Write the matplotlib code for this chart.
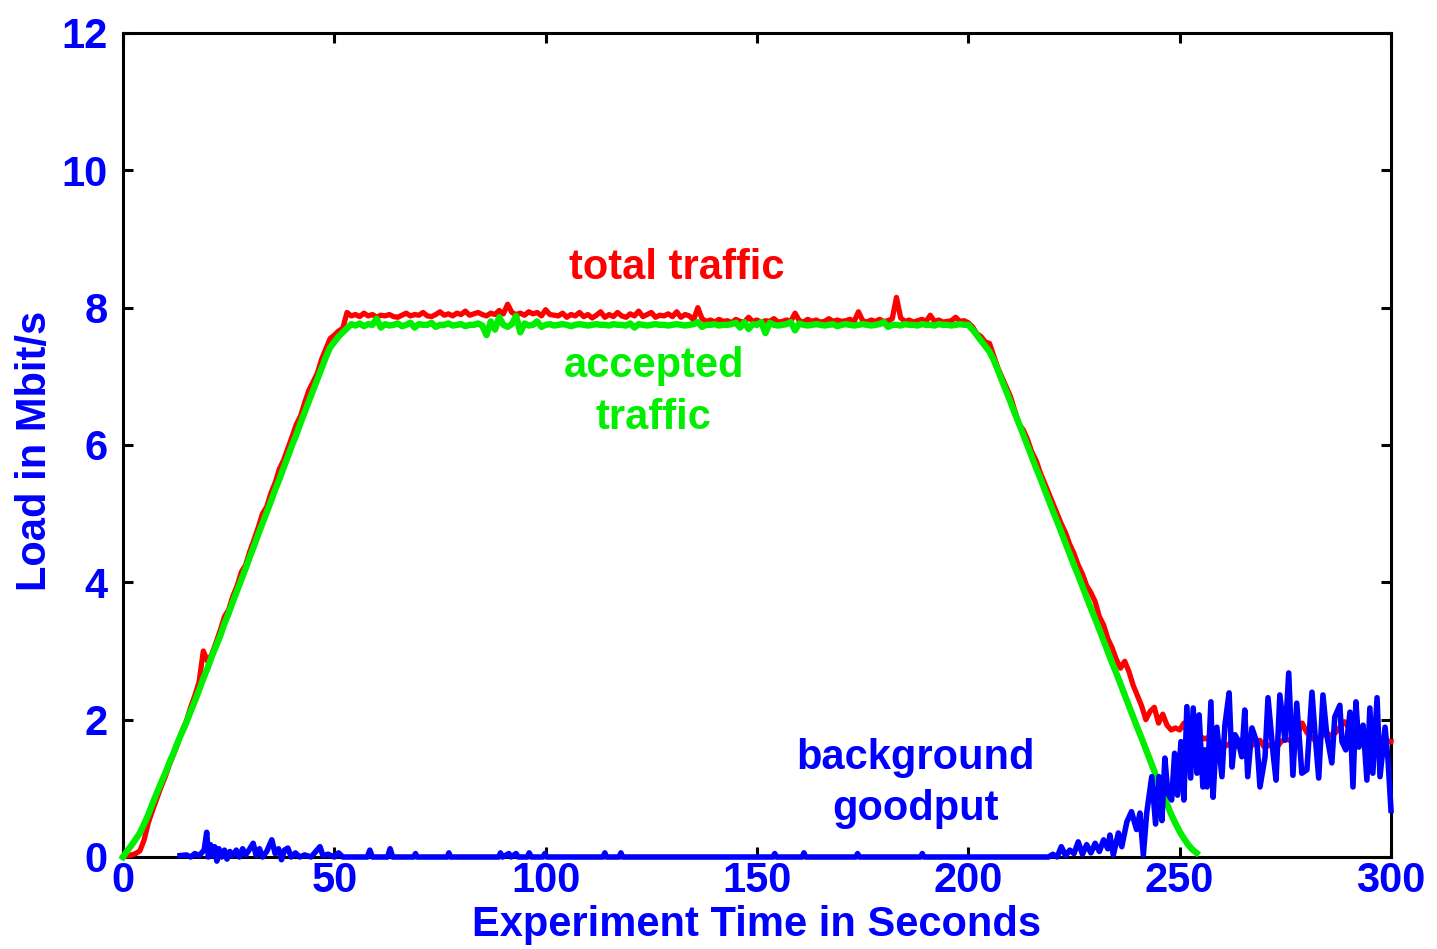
import numpy as np
import matplotlib
matplotlib.use("Agg")
import matplotlib.pyplot as plt

# -------------------------
# Data (1 s samples)
# -------------------------
red_load = [
    0.00, 0.02, 0.03, 0.05, 0.09, 0.25, 0.50, 0.68, 0.85, 1.02,
    1.17, 1.35, 1.50, 1.66, 1.84, 1.98, 2.18, 2.35, 2.55, 3.00,
    2.85, 2.95, 3.12, 3.30, 3.50, 3.60, 3.80, 3.95, 4.15, 4.25,
    4.45, 4.62, 4.80, 5.00, 5.10, 5.30, 5.45, 5.65, 5.78, 5.95,
    6.12, 6.30, 6.42, 6.62, 6.80, 6.92, 7.05, 7.25, 7.40, 7.55,
    7.60, 7.66, 7.70, 7.93, 7.88, 7.90, 7.87, 7.92, 7.88, 7.90,
    7.86, 7.89, 7.88, 7.90, 7.87, 7.86, 7.89, 7.92, 7.88, 7.90,
    7.89, 7.93, 7.88, 7.87, 7.90, 7.94, 7.89, 7.91, 7.88, 7.92,
    7.90, 7.95, 7.89, 7.91, 7.93, 7.90, 7.88, 7.92, 7.90, 7.96,
    7.91, 8.05, 7.93, 7.90, 7.92, 7.89, 7.94, 7.91, 7.93, 7.88,
    7.97, 7.90, 7.89, 7.88, 7.92, 7.86, 7.90, 7.88, 7.93, 7.87,
    7.90, 7.85, 7.89, 7.94, 7.86, 7.90, 7.87, 7.93, 7.88, 7.86,
    7.91, 7.88, 7.95, 7.87, 7.90, 7.93, 7.86, 7.89, 7.88, 7.91,
    7.87, 7.94, 7.86, 7.90, 7.88, 7.82, 8.00, 7.84, 7.80, 7.82,
    7.79, 7.83, 7.80, 7.81, 7.78, 7.83, 7.80, 7.79, 7.86, 7.80,
    7.82, 7.79, 7.81, 7.80, 7.84, 7.79, 7.80, 7.82, 7.80, 7.92,
    7.81, 7.79, 7.83, 7.80, 7.82, 7.79, 7.80, 7.84, 7.80, 7.82,
    7.80, 7.81, 7.83, 7.80, 7.94, 7.81, 7.79, 7.82, 7.80, 7.83,
    7.80, 7.81, 7.84, 8.15, 7.85, 7.80, 7.82, 7.79, 7.81, 7.83,
    7.80, 7.89, 7.80, 7.82, 7.79, 7.80, 7.81, 7.86, 7.80, 7.81,
    7.78, 7.72, 7.62, 7.58, 7.50, 7.48, 7.30, 7.12, 6.98, 6.84,
    6.70, 6.50, 6.30, 6.22, 6.08, 5.90, 5.78, 5.60, 5.45, 5.30,
    5.15, 5.00, 4.85, 4.72, 4.55, 4.42, 4.25, 4.12, 3.95, 3.85,
    3.72, 3.50, 3.38, 3.18, 3.05, 2.88, 2.75, 2.85, 2.70, 2.50,
    2.35, 2.20, 2.00, 2.12, 2.18, 1.95, 2.08, 1.92, 1.85, 1.88,
    1.85, 1.95, 1.80, 1.78, 1.82, 1.75, 1.72, 1.75, 1.70, 1.68,
    1.65, 1.62, 1.66, 1.60, 1.63, 1.65, 1.60, 1.62, 1.66, 1.70,
    1.60, 1.62, 1.65, 1.60, 1.68, 1.72, 1.70, 1.75, 1.80, 1.95,
    1.82, 1.75, 1.70, 1.72, 1.78, 1.80, 1.76, 1.82, 1.90, 1.97,
    1.88, 1.84, 1.80, 1.78, 1.74, 1.75, 1.72, 1.70, 1.72, 1.69,
    1.68,
]

green_load = [
    0.00, 0.09, 0.17, 0.26, 0.35, 0.48, 0.62, 0.78, 0.93, 1.08,
    1.22, 1.38, 1.52, 1.68, 1.82, 1.96, 2.12, 2.27, 2.43, 2.60,
    2.75, 2.92, 3.07, 3.22, 3.40, 3.55, 3.72, 3.88, 4.04, 4.20,
    4.37, 4.53, 4.70, 4.86, 5.02, 5.18, 5.35, 5.50, 5.67, 5.83,
    6.00, 6.15, 6.32, 6.48, 6.64, 6.80, 6.96, 7.12, 7.28, 7.42,
    7.50, 7.58, 7.64, 7.70, 7.76, 7.74, 7.77, 7.73, 7.76, 7.75,
    7.84, 7.71, 7.76, 7.74, 7.75, 7.77, 7.73, 7.75, 7.78, 7.71,
    7.76, 7.75, 7.75, 7.78, 7.72, 7.75, 7.75, 7.77, 7.74, 7.75,
    7.76, 7.73, 7.75, 7.75, 7.77, 7.74, 7.60, 7.80, 7.68, 7.86,
    7.75, 7.72, 7.76, 7.88, 7.64, 7.77, 7.74, 7.75, 7.80, 7.72,
    7.75, 7.76, 7.74, 7.75, 7.76, 7.75, 7.73, 7.75, 7.76, 7.75,
    7.74, 7.75, 7.76, 7.75, 7.75, 7.74, 7.76, 7.75, 7.75, 7.74,
    7.77, 7.71, 7.76, 7.75, 7.74, 7.75, 7.76, 7.75, 7.75, 7.74,
    7.75, 7.76, 7.75, 7.74, 7.75, 7.76, 7.79, 7.72, 7.75, 7.75,
    7.76, 7.74, 7.75, 7.75, 7.76, 7.78, 7.71, 7.79, 7.69, 7.76,
    7.75, 7.79, 7.63, 7.78, 7.75, 7.74, 7.75, 7.76, 7.79, 7.67,
    7.77, 7.75, 7.74, 7.75, 7.76, 7.75, 7.74, 7.75, 7.76, 7.73,
    7.75, 7.76, 7.75, 7.74, 7.75, 7.76, 7.75, 7.74, 7.75, 7.76,
    7.79, 7.72, 7.75, 7.75, 7.74, 7.76, 7.75, 7.75, 7.74, 7.76,
    7.75, 7.75, 7.74, 7.76, 7.75, 7.75, 7.74, 7.75, 7.76, 7.75,
    7.75, 7.68, 7.60, 7.52, 7.44, 7.36, 7.24, 7.09, 6.93, 6.78,
    6.62, 6.46, 6.31, 6.15, 5.99, 5.83, 5.67, 5.52, 5.36, 5.20,
    5.04, 4.89, 4.73, 4.57, 4.41, 4.25, 4.10, 3.94, 3.78, 3.62,
    3.47, 3.31, 3.15, 2.99, 2.83, 2.68, 2.52, 2.36, 2.20, 2.04,
    1.88, 1.73, 1.57, 1.41, 1.25, 1.08, 0.92, 0.77, 0.62, 0.49,
    0.37, 0.27, 0.18, 0.11, 0.06,
]

blue_time = [
    13.5, 15, 16, 17, 18, 19.2, 19.8, 20.2, 20.7, 21.2,
    21.7, 22.2, 22.7, 23.3, 24, 24.6, 25.3, 26, 26.8, 27.5,
    28.3, 29, 29.8, 30.8, 31.5, 32.3, 33, 34, 35.2, 36,
    36.8, 37.5, 38.2, 39, 39.8, 40.8, 41.8, 43, 44.5, 46.6,
    47.3, 48.5, 50, 51, 52, 57.8, 58.4, 59, 62.6, 63.2,
    63.8, 68.8, 69.2, 69.6, 76.7, 77.1, 77.5, 88.9, 89.3, 89.8,
    91.3, 91.8, 93, 93.5, 95.7, 96.1, 96.6, 99.4, 99.8, 100.3,
    113.6, 114, 114.4, 117.4, 117.8, 118.2, 153.8, 154.2, 154.6, 160.7,
    161.1, 161.5, 173.4, 173.8, 174.2, 188.7, 189.1, 189.5, 219, 220,
    221, 222, 223, 224, 225, 226, 227, 228, 229, 230,
    231, 232, 233, 233.5, 234.3, 235.5, 236.3, 237.5, 238.6, 239.8,
    240.6, 241.4, 242.2, 243.4, 244.3, 245.1, 245.8, 246.5, 247.2, 248.1,
    248.8, 249.5, 250.3, 251.0, 251.7, 252.6, 253.2, 254.1, 254.6, 255.5,
    256.0, 256.5, 257.4, 257.9, 258.8, 260.0, 260.7, 261.7, 262.4, 263.1,
    263.8, 264.7, 265.4, 266.1, 267.1, 268.3, 269.0, 270.2, 270.9, 272.1,
    272.8, 273.7, 274.9, 275.8, 276.8, 277.7, 278.9, 280.1, 281.3, 282.0,
    282.9, 283.9, 284.8, 286.0, 286.7, 287.9, 288.4, 289.3, 290.3, 291.0,
    291.7, 292.4, 293.4, 294.3, 295.0, 295.7, 296.7, 297.4, 298.6, 299.3,
    300.0,
]

blue_load = [
    0.02, 0.03, 0.00, 0.05, 0.02, 0.10, 0.36, 0.00, 0.18, 0.02,
    0.15, -0.06, 0.12, 0.00, 0.10, -0.03, 0.08, 0.02, 0.10, 0.00,
    0.12, 0.03, 0.10, 0.20, 0.02, 0.12, 0.00, 0.08, 0.25, 0.05,
    0.12, -0.04, 0.10, 0.13, 0.00, 0.06, 0.00, 0.03, 0.00, 0.15,
    0.02, 0.04, 0.00, 0.06, 0.00, 0.00, 0.10, 0.00, 0.00, 0.12,
    0.00, 0.00, 0.05, 0.00, 0.00, 0.06, 0.00, 0.00, 0.06, 0.00,
    0.05, 0.00, 0.05, 0.00, 0.00, 0.06, 0.00, 0.00, 0.05, 0.00,
    0.00, 0.06, 0.00, 0.00, 0.06, 0.00, 0.00, 0.05, 0.00, 0.00,
    0.06, 0.00, 0.00, 0.05, 0.00, 0.00, 0.05, 0.00, 0.00, 0.04,
    0.00, 0.15, 0.02, 0.10, 0.05, 0.22, 0.04, 0.18, 0.06, 0.20,
    0.08, 0.25, 0.12, 0.32, 0.03, 0.35, 0.15, 0.51, 0.66, 0.40,
    0.64, 0.03, 0.64, 1.17, 0.48, 1.17, 0.53, 1.44, 0.93, 0.83,
    1.51, 0.90, 1.68, 0.83, 2.19, 1.15, 2.17, 1.22, 2.07, 1.02,
    1.56, 1.02, 2.26, 0.87, 1.89, 1.17, 1.92, 2.39, 1.31, 1.78,
    1.70, 1.46, 2.14, 1.17, 1.88, 1.66, 1.02, 1.46, 2.32, 1.51,
    1.12, 2.36, 1.70, 2.68, 1.19, 2.24, 1.22, 1.27, 2.40, 1.81,
    1.15, 2.36, 1.78, 1.37, 2.04, 2.21, 1.68, 1.56, 2.11, 1.02,
    2.26, 1.60, 1.92, 1.12, 2.17, 1.22, 2.32, 1.17, 1.89, 1.41,
    0.68,
]

x_ticks = [0, 50, 100, 150, 200, 250, 300]
y_ticks = [0, 2, 4, 6, 8, 10, 12]

RED = "#ff0000"
GREEN = "#00ee00"
BLUE = "#0000ff"
FS = 30

plt.rcParams["font.family"] = ["Liberation Sans", "DejaVu Sans"]
plt.rcParams["font.weight"] = "bold"

# -------------------------
# Plot
# -------------------------
fig = plt.figure(figsize=(14.37, 9.49), dpi=100)
ax = fig.add_axes([123 / 1437, 92 / 949, 1268 / 1437, 824 / 949])

ax.plot(np.arange(len(red_load)), red_load, color=RED, lw=3.8, clip_on=False, zorder=3)
ax.plot(np.arange(len(green_load)), green_load, color=GREEN, lw=4.6, clip_on=False, zorder=4)
ax.plot(blue_time, blue_load, color=BLUE, lw=4.0, clip_on=False, zorder=5)

ax.set_xlim(0, 300)
ax.set_ylim(0, 12)
ax.set_xticks(x_ticks)
ax.set_yticks(y_ticks)

ax.tick_params(direction="in", length=7, width=2.2, top=True, right=True,
               labelsize=FS, labelcolor=BLUE)
ax.tick_params(axis="x", pad=3)
ax.tick_params(axis="y", pad=11)
for lab in ax.get_xticklabels() + ax.get_yticklabels():
    lab.set_fontweight("bold")
for sp in ax.spines.values():
    sp.set_linewidth(2.2)

ax.set_xlabel("Experiment Time in Seconds", fontsize=FS, color=BLUE, fontweight="bold")
ax.set_ylabel("Load in Mbit/s", fontsize=FS, color=BLUE, fontweight="bold")
ax.xaxis.set_label_coords(0.5, -0.058)
ax.yaxis.set_label_coords(-0.054, 0.493)

ax.text(131.1, 8.58, "total traffic", color=RED, fontsize=FS, fontweight="bold",
        ha="center", va="center")
ax.text(125.6, 6.77, "accepted\ntraffic", color=GREEN, fontsize=FS, fontweight="bold",
        ha="center", va="center", linespacing=1.38)
ax.text(187.4, 1.07, "background\ngoodput", color=BLUE, fontsize=FS, fontweight="bold",
        ha="center", va="center", linespacing=1.38)

fig.savefig("out.png", dpi=100)
